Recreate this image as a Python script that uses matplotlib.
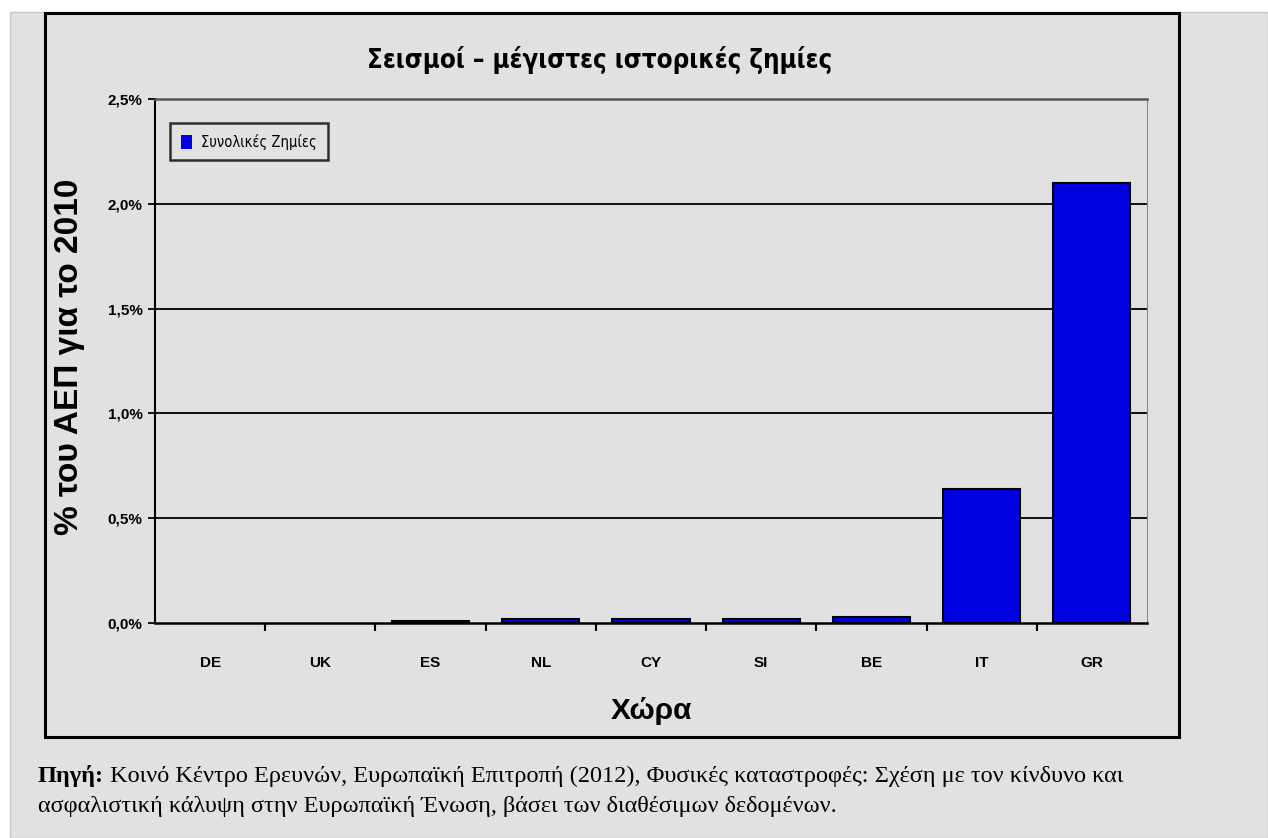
import matplotlib
matplotlib.use('Agg')
import matplotlib.pyplot as plt
from matplotlib.patches import Rectangle
from matplotlib.ticker import FuncFormatter, FixedLocator

countries = ['DE', 'UK', 'ES', 'NL', 'CY', 'SI', 'BE', 'IT', 'GR']
damages = [0.0, 0.0, 0.01, 0.02, 0.02, 0.02, 0.03, 0.64, 2.10]
yticks = [0.0, 0.5, 1.0, 1.5, 2.0, 2.5]

title = 'Σεισμοί – μέγιστες ιστορικές ζημίες'
ylabel = '% του ΑΕΠ για το 2010'
xlabel = 'Χώρα'
legend_label = 'Συνολικές Ζημίες'
source_bold = 'Πηγή:'
source_line1 = ' Κοινό Κέντρο Ερευνών, Ευρωπαϊκή Επιτροπή (2012), Φυσικές καταστροφές: Σχέση με τον κίνδυνο και'
source_line2 = 'ασφαλιστική κάλυψη στην Ευρωπαϊκή Ένωση, βάσει των διαθέσιμων δεδομένων.'

W, H = 1268, 838
bg = '#e1e1e1'
sans = ['Liberation Sans', 'DejaVu Sans']
serif = ['Liberation Serif', 'DejaVu Serif']

fig = plt.figure(figsize=(W / 100, H / 100), dpi=100, facecolor='white')

# grey page background and chart frame
fig.patches.append(Rectangle((10 / W, 0), 1 - 10 / W, 1 - 12 / H, transform=fig.transFigure,
                             facecolor=bg, edgecolor='#c8c8c8', lw=1, zorder=-10))
fig.patches.append(Rectangle((45 / W, 1 - 737 / H), (1179 - 45) / W, (737 - 13) / H,
                             transform=fig.transFigure, facecolor='none',
                             edgecolor='black', lw=2.2, zorder=-5))

ax = fig.add_axes([155 / W, 1 - 623 / H, (1147 - 155) / W, (623 - 99) / H])
ax.set_facecolor(bg)

x = list(range(len(countries)))
edges = ['black' if v > 0 else 'none' for v in damages]
ax.bar(x, damages, width=0.7, color='#0000e0', edgecolor=edges, linewidth=1.5,
       label=legend_label, zorder=3)

ax.set_xlim(-0.5, len(countries) - 0.5)
ax.set_ylim(0, 2.5)
ax.set_yticks(yticks)
ax.yaxis.set_major_formatter(FuncFormatter(lambda v, p: f'{v:.1f}%'.replace('.', ',')))
for v in yticks[1:]:
    ax.axhline(v, color='black', lw=1.3, zorder=1)

ax.set_xticks(x)
ax.set_xticklabels(countries)
ax.tick_params(axis='x', which='major', length=0, pad=24)
ax.xaxis.set_minor_locator(FixedLocator([i + 0.5 for i in range(len(countries) - 1)]))
ax.tick_params(axis='x', which='minor', length=6, width=1.5, direction='out')
ax.tick_params(axis='y', length=5, width=1.3, direction='out', pad=4)

for lab in ax.get_xticklabels() + ax.get_yticklabels():
    lab.set_fontfamily(sans)
    lab.set_fontweight('bold')
    lab.set_fontsize(11)

ax.spines['left'].set_linewidth(1.5)
ax.spines['bottom'].set_linewidth(1.8)
ax.spines['right'].set_color('#888888')
ax.spines['top'].set_color('#555555')
ax.spines['top'].set_linewidth(1.8)

fig.text(70 / W, 1 - 357 / H, ylabel, rotation=90, ha='center', va='center',
         fontfamily=sans, fontweight='bold', fontsize=24)
fig.text(651 / W, 1 - 711 / H, xlabel, ha='center', va='center',
         fontfamily=sans, fontweight='bold', fontsize=21.5)
fig.text(600 / W, 1 - 60 / H, title, ha='center', va='center', fontfamily='DejaVu Sans',
         fontstretch='condensed', fontweight='bold', fontsize=18.5)

leg = ax.legend(loc='upper left', bbox_to_anchor=(0.0155, 0.955), frameon=True, fancybox=False,
                prop={'family': 'DejaVu Sans', 'stretch': 'condensed', 'size': 10.5},
                handlelength=0.75, handleheight=1.1,
                handletextpad=0.6, borderpad=0.75, borderaxespad=0)
leg.get_frame().set_edgecolor('black')
leg.get_frame().set_linewidth(1.8)
leg.get_frame().set_facecolor(bg)

# source note: bold label then regular text
t1 = fig.text(38 / W, 1 - 776 / H, source_bold, fontfamily=serif, fontweight='bold',
              fontsize=17.5, va='center', ha='left')
fig.canvas.draw()
bb = t1.get_window_extent(renderer=fig.canvas.get_renderer())
fig.text(bb.x1 / W, 1 - 776 / H, source_line1, fontfamily=serif, fontsize=17.5,
         va='center', ha='left')
fig.text(38 / W, 1 - 806 / H, source_line2, fontfamily=serif, fontsize=17.5,
         va='center', ha='left')

fig.savefig('out.png', dpi=100, facecolor=fig.get_facecolor())
